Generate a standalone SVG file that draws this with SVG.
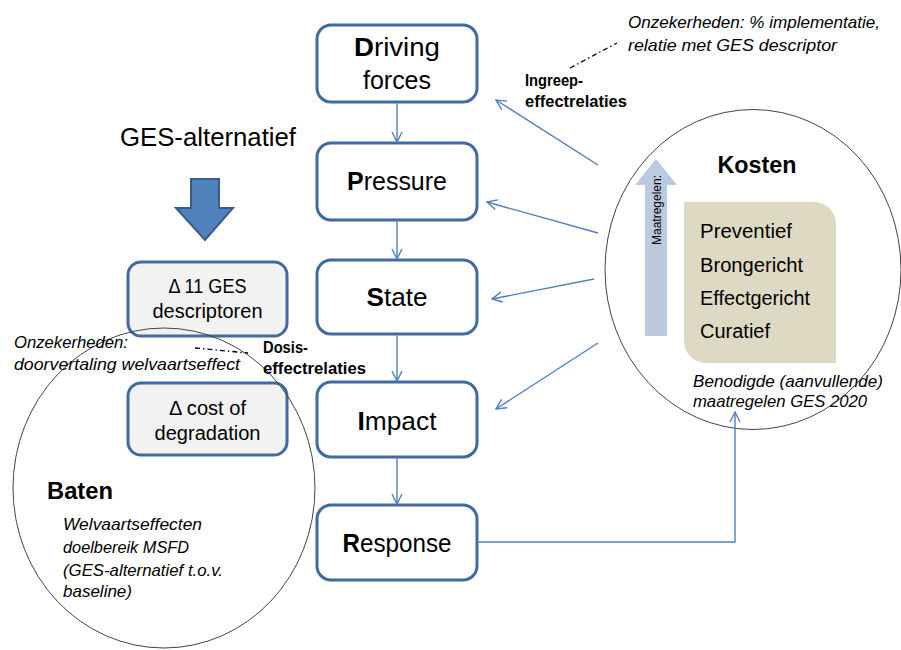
<svg xmlns="http://www.w3.org/2000/svg" width="901" height="650" viewBox="0 0 901 650">
<style>
text{font-family:"Liberation Sans",Arial,sans-serif;fill:#000}
.box{fill:#fff;stroke:#3f6ba0;stroke-width:3}
.gbox{fill:#f2f2f2;stroke:#3f6ba0;stroke-width:3}
.big{font-size:25px}
.mid{font-size:20px}
.it{font-size:17px;font-style:italic}
.bl{font-size:17px;font-weight:bold}
.hd{font-size:24px;font-weight:bold}
.con{fill:none;stroke:#4f81bd;stroke-width:1.4}
.ell{fill:none;stroke:#444;stroke-width:1}
.dd{fill:none;stroke:#000;stroke-width:1.3;stroke-dasharray:5 3 1.5 3}
</style>
<defs>
<marker id="ah" viewBox="0 0 12 12" refX="11" refY="6" markerWidth="12" markerHeight="12" markerUnits="userSpaceOnUse" orient="auto">
<path d="M1,1 L11,6 L1,11" fill="none" stroke="#4f81bd" stroke-width="1.4"/>
</marker>
</defs>
<rect width="901" height="650" fill="#fff"/>

<g id="ges-alternatief">
<text x="120" y="146" font-size="26" textLength="176" lengthAdjust="spacingAndGlyphs">GES-alternatief</text>
<polygon points="191,179 219,179 219,208 233,208 205,240 176,208 191,208" fill="#4f81bd" stroke="#385d8a" stroke-width="2"/>
</g>

<g id="delta-ges">
<rect class="gbox" x="128" y="262" width="159" height="74" rx="13"/>
<text class="mid" x="207.5" y="293" text-anchor="middle" textLength="78" lengthAdjust="spacingAndGlyphs">Δ 11 GES</text>
<text class="mid" x="207.5" y="318" text-anchor="middle" textLength="110" lengthAdjust="spacingAndGlyphs">descriptoren</text>
</g>
<g id="delta-cost">
<rect class="gbox" x="128" y="383" width="159" height="72" rx="13"/>
<text class="mid" x="207.5" y="415" text-anchor="middle" textLength="77" lengthAdjust="spacingAndGlyphs">Δ cost of</text>
<text class="mid" x="207.5" y="440" text-anchor="middle" textLength="106" lengthAdjust="spacingAndGlyphs">degradation</text>
</g>

<g id="driving">
<rect class="box" x="317" y="25" width="160" height="77" rx="14"/>
<text class="big" x="397" y="56" text-anchor="middle" textLength="86" lengthAdjust="spacingAndGlyphs"><tspan font-weight="bold">D</tspan>riving</text>
<text class="big" x="397" y="89" text-anchor="middle" textLength="68" lengthAdjust="spacingAndGlyphs">forces</text>
</g>
<g id="pressure">
<rect class="box" x="317" y="143" width="160" height="77" rx="14"/>
<text class="big" x="397" y="190" text-anchor="middle" textLength="100" lengthAdjust="spacingAndGlyphs"><tspan font-weight="bold">P</tspan>ressure</text>
</g>
<g id="state">
<rect class="box" x="317" y="260" width="160" height="74" rx="14"/>
<text class="big" x="397" y="306" text-anchor="middle" textLength="61" lengthAdjust="spacingAndGlyphs"><tspan font-weight="bold">S</tspan>tate</text>
</g>
<g id="impact">
<rect class="box" x="317" y="382" width="160" height="75" rx="14"/>
<text class="big" x="397" y="430" text-anchor="middle" textLength="79" lengthAdjust="spacingAndGlyphs"><tspan font-weight="bold">I</tspan>mpact</text>
</g>
<g id="response">
<rect class="box" x="317" y="505" width="160" height="75" rx="14"/>
<text class="big" x="397" y="552" text-anchor="middle" textLength="109" lengthAdjust="spacingAndGlyphs"><tspan font-weight="bold">R</tspan>esponse</text>
</g>

<g id="kosten">
<polygon points="645,336 645,185 635,185 656,159 677,185 667,185 667,336" fill="#bccae0"/>
<text x="0" y="0" font-size="12.5" text-anchor="middle" transform="translate(661,210) rotate(-90)" textLength="70" lengthAdjust="spacingAndGlyphs">Maatregelen:</text>
<path d="M684,202 H814 A22,22 0 0 1 836,224 V363 H706 A22,22 0 0 1 684,341 Z" fill="#ddd9c3"/>
<text class="hd" x="757" y="173" text-anchor="middle" textLength="79" lengthAdjust="spacingAndGlyphs">Kosten</text>
<text class="mid" x="700" y="238" textLength="92" lengthAdjust="spacingAndGlyphs">Preventief</text>
<text class="mid" x="700" y="272" textLength="103" lengthAdjust="spacingAndGlyphs">Brongericht</text>
<text class="mid" x="700" y="305" textLength="110" lengthAdjust="spacingAndGlyphs">Effectgericht</text>
<text class="mid" x="700" y="338" textLength="70" lengthAdjust="spacingAndGlyphs">Curatief</text>
<text class="it" x="693" y="387" textLength="190" lengthAdjust="spacingAndGlyphs">Benodigde (aanvullende)</text>
<text class="it" x="693" y="407" textLength="174" lengthAdjust="spacingAndGlyphs">maatregelen GES 2020</text>
<ellipse class="ell" cx="753" cy="269.5" rx="148" ry="160"/>
</g>

<g id="baten">
<text class="hd" x="47" y="499" textLength="66" lengthAdjust="spacingAndGlyphs">Baten</text>
<text class="it" x="63" y="530" textLength="139" lengthAdjust="spacingAndGlyphs">Welvaartseffecten</text>
<text class="it" x="63" y="553" textLength="126" lengthAdjust="spacingAndGlyphs">doelbereik MSFD</text>
<text class="it" x="63" y="576" textLength="160" lengthAdjust="spacingAndGlyphs">(GES-alternatief t.o.v.</text>
<text class="it" x="63" y="597" textLength="69" lengthAdjust="spacingAndGlyphs">baseline)</text>
<ellipse class="ell" cx="164" cy="488" rx="151" ry="160"/>
</g>

<g id="labels">
<text class="it" x="628" y="28" textLength="252" lengthAdjust="spacingAndGlyphs">Onzekerheden: % implementatie,</text>
<text class="it" x="628" y="51" textLength="209" lengthAdjust="spacingAndGlyphs">relatie met GES descriptor</text>
<text class="bl" x="525" y="86" textLength="58" lengthAdjust="spacingAndGlyphs">Ingreep-</text>
<text class="bl" x="525" y="107" textLength="102" lengthAdjust="spacingAndGlyphs">effectrelaties</text>
<text class="it" x="14" y="348" textLength="114" lengthAdjust="spacingAndGlyphs">Onzekerheden:</text>
<text class="it" x="14" y="370" textLength="226" lengthAdjust="spacingAndGlyphs">doorvertaling welvaartseffect</text>
<text class="bl" x="263" y="353" textLength="45" lengthAdjust="spacingAndGlyphs">Dosis-</text>
<text class="bl" x="263" y="374" textLength="103" lengthAdjust="spacingAndGlyphs">effectrelaties</text>
</g>

<g id="connectors">
<line class="con" x1="397" y1="102" x2="397" y2="142" marker-end="url(#ah)"/>
<line class="con" x1="397" y1="220" x2="397" y2="259" marker-end="url(#ah)"/>
<line class="con" x1="397" y1="334" x2="397" y2="381" marker-end="url(#ah)"/>
<line class="con" x1="397" y1="457" x2="397" y2="504" marker-end="url(#ah)"/>
<line class="con" x1="598" y1="165" x2="496" y2="100" marker-end="url(#ah)"/>
<line class="con" x1="598" y1="233" x2="487" y2="202" marker-end="url(#ah)"/>
<line class="con" x1="594" y1="279" x2="492" y2="299" marker-end="url(#ah)"/>
<line class="con" x1="598" y1="343" x2="496" y2="409" marker-end="url(#ah)"/>
<polyline class="con" points="477,542 735,542 735,412" marker-end="url(#ah)"/>
<line class="dd" x1="570" y1="68" x2="617" y2="43"/>
<line class="dd" x1="195" y1="348" x2="248" y2="353"/>
</g>
</svg>
